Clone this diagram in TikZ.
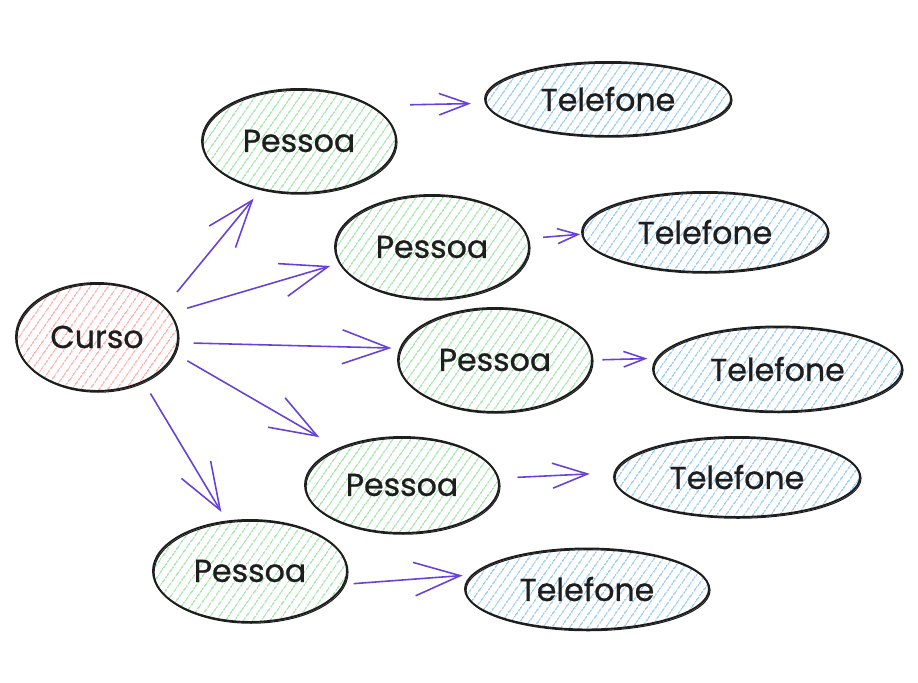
\documentclass[tikz,border=0pt]{standalone}
\usepackage{fontspec}
\setmainfont{Poppins}
\newfontfamily\rotulo{Poppins}[FakeBold=0.8]
\usepackage{tikz}
\usetikzlibrary{shapes.geometric,arrows.meta,patterns.meta}

\definecolor{ink}{HTML}{1E1E1E}
\definecolor{violeta}{HTML}{6741D9}
\definecolor{rosa}{HTML}{FFA8A8}
\definecolor{verde}{HTML}{9EE3A8}
\definecolor{azul}{HTML}{93C8F5}

\begin{document}
\begin{tikzpicture}[x=0.02cm,y=-0.02cm,
    bola/.style={ellipse, draw=ink, line width=1.1pt, inner sep=0pt, text=ink,
        font=\rotulo\fontsize{18}{21}\selectfont,
        postaction={draw=ink, line width=0.6pt, transform canvas={shift={(0.6pt,-0.7pt)}}}},
    hachura/.style={pattern={Lines[angle=55,distance=0.14cm,line width=0.75pt]}, pattern color=#1},
    curso/.style={bola, hachura=rosa},
    pessoa/.style={bola, hachura=verde},
    fone/.style={bola, hachura=azul},
    seta/.style 2 args={draw=violeta, line width=0.9pt, -{Straight Barb[length=#1,width=#2]}}]
    \useasboundingbox (0,0) rectangle (918,682);

    \node[curso, minimum width=3.24cm, minimum height=2.16cm] (curso) at (97,337) {Curso};

    \node[pessoa, minimum width=3.88cm, minimum height=2.08cm] (p1) at (299,141) {Pessoa};
    \node[pessoa, minimum width=3.88cm, minimum height=2.08cm] (p2) at (432,247) {Pessoa};
    \node[pessoa, minimum width=3.88cm, minimum height=2.08cm] (p3) at (495,360) {Pessoa};
    \node[pessoa, minimum width=3.88cm, minimum height=1.92cm] (p4) at (402,485) {Pessoa};
    \node[pessoa, minimum width=3.88cm, minimum height=2.04cm] (p5) at (250,571) {Pessoa};

    \node[fone, minimum width=4.92cm, minimum height=1.48cm] (t1) at (608,99) {Telefone};
    \node[fone, minimum width=4.92cm, minimum height=1.60cm] (t2) at (705,232) {Telefone};
    \node[fone, minimum width=4.98cm, minimum height=1.70cm] (t3) at (777.5,369) {Telefone};
    \node[fone, minimum width=4.92cm, minimum height=1.60cm] (t4) at (737,477) {Telefone};
    \node[fone, minimum width=4.88cm, minimum height=1.62cm] (t5) at (587,589) {Telefone};

    % curso -> pessoas
    \draw[seta={0.94cm}{0.68cm}, shorten <=0.38cm, shorten >=0.23cm] (curso.24.5) -- (p1.232.8);
    \draw[seta={0.94cm}{0.68cm}, shorten <=0.35cm, shorten >=0.18cm] (curso.18.6) -- (p2.190.9);
    \draw[seta={0.94cm}{0.68cm}, shorten <=0.31cm, shorten >=0.16cm] (curso.356.1) -- (p3.173.5);
    \draw[seta={0.94cm}{0.68cm}, shorten <=0.29cm, shorten >=0.43cm] (curso.348.5) -- (p4.150.4);
    \draw[seta={0.94cm}{0.68cm}, shorten <=0.27cm, shorten >=0.20cm] (curso.316.1) -- (p5.115.8);

    % pessoa -> telefone
    \draw[seta={0.59cm}{0.43cm}, shorten <=0.77cm, shorten >=0.28cm] (p1.26) -- (t1.182.8);
    \draw[seta={0.41cm}{0.30cm}, shorten <=0.29cm, shorten >=0.02cm] (p2.5.8) -- (t2.181.7);
    \draw[seta={0.43cm}{0.31cm}, shorten <=0.19cm, shorten >=0.17cm] (p3.0.4) -- (t3.175.3);
    \draw[seta={0.70cm}{0.50cm}, shorten <=0.37cm, shorten >=0.48cm] (p4.4) -- (t4.178.3);
    \draw[seta={0.92cm}{0.67cm}, shorten <=0.18cm, shorten >=0.18cm] (p5.352.6) -- (t5.173.4);
\end{tikzpicture}
\end{document}
